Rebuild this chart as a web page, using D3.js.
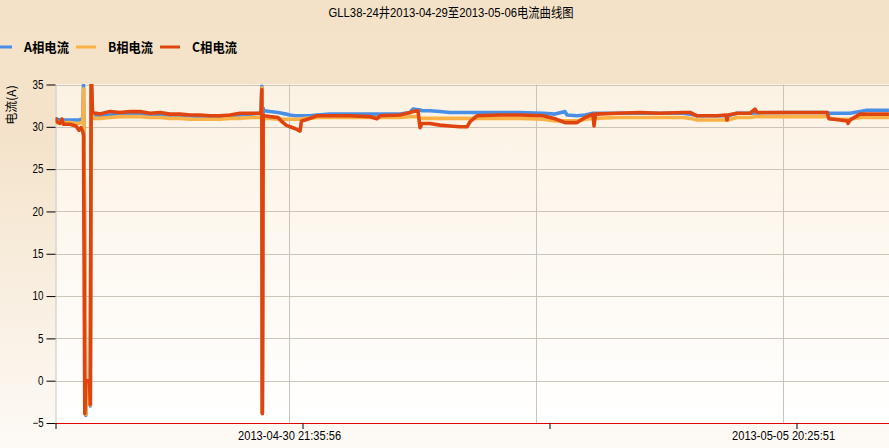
<!DOCTYPE html>
<html><head><meta charset="utf-8">
<script src="https://cdn.jsdelivr.net/npm/d3@7"></script>
<style>html,body{margin:0;padding:0;overflow:hidden;background:#fff}</style>
</head><body><svg id="c" width="889" height="448"></svg>
<script>
const chartTitle = "GLL38-24井2013-04-29至2013-05-06电流曲线图";
const yAxisTitle = "电流(A)";
const seriesNames = ["A相电流", "B相电流", "C相电流"];
const seriesColors = ["#4a8fe6", "#fbb146", "#e0440e"];
const startTime = "2013-04-28 10:10:58";
const endTime = "2013-05-06 18:40:53";
// sample times, in hours after startTime
const hours = [0,0.36,1.08,1.56,1.92,3.49,4.93,5.65,6.13,6.57,6.74,7.05,7.29,7.46,7.94,8.18,8.37,8.59,8.90,
  10.70,13.11,15.52,17.92,20.33,22.73,25.14,27.54,29.95,32.36,34.76,37.17,39.57,41.98,44.38,46.79,
  49.44,49.63,49.75,49.96,50.16,51.60,53.52,54.48,55.45,56.41,57.61,58.82,59.18,60.02,61.22,62.91,
  66.04,70.85,75.66,77.34,78.06,82.87,85.28,86.00,87.20,87.68,88.16,90.09,92.49,94.90,97.30,98.99,
  99.71,101.39,106.93,111.74,117.27,120.16,122.57,123.05,125.45,127.38,129.30,129.54,129.90,135.07,
  140.61,145.42,150.95,152.63,154.32,159.13,161.29,161.53,161.77,163.94,167.07,168.27,168.75,176.69,
  185.59,186.07,188.71,190.40,190.64,191.12,193.52,195.20,200.49];
const valuesA = [30.9,30.9,30.8,30.9,30.8,30.8,30.8,30.8,30.9,31.0,34.9,16.0,-4.1,0,0,-2.5,-3.0,35.5,31.4,
  31.3,31.4,31.5,31.5,31.5,31.4,31.4,31.3,31.3,31.3,31.2,31.2,31.2,31.3,31.4,31.5,
  31.6,34.8,-3.8,32.2,31.9,31.8,31.7,31.6,31.5,31.4,31.3,31.3,31.3,31.3,31.3,31.4,
  31.5,31.5,31.5,31.5,31.5,31.5,31.7,32.1,32.0,32.0,31.9,31.9,31.8,31.7,31.7,31.7,
  31.7,31.7,31.7,31.7,31.6,31.5,31.8,31.4,31.3,31.4,31.6,31.6,31.6,31.6,
  31.6,31.6,31.6,31.5,31.3,31.3,31.3,31.3,31.3,31.6,31.6,31.65,31.65,31.7,
  31.7,31.6,31.6,31.6,31.6,31.6,31.8,31.95,31.95];
const valuesB = [30.6,30.5,30.5,30.6,30.5,30.5,30.4,30.4,30.5,30.6,34.5,16.0,-4.0,0,0,-2.4,-2.9,35.2,31.0,
  31.0,31.1,31.2,31.2,31.2,31.1,31.1,31.0,31.0,30.9,30.9,30.9,30.9,31.0,31.0,31.1,
  31.1,34.6,-3.8,31.4,31.0,31.0,30.9,30.9,30.9,30.9,30.9,30.9,30.9,31.0,31.0,31.1,
  31.1,31.1,31.1,31.1,31.1,31.1,31.2,31.2,31.2,31.0,31.0,31.0,31.0,31.0,31.0,31.0,
  31.0,31.0,31.0,31.0,30.9,30.7,30.7,30.7,30.7,30.9,31.0,31.0,31.0,31.1,
  31.1,31.1,31.1,31.0,30.8,30.8,30.8,30.8,30.8,31.1,31.1,31.2,31.2,31.2,
  31.2,31.0,30.9,30.9,30.9,30.9,31.1,31.1,31.1];
const valuesC = [31.1,30.6,30.4,30.9,30.3,30.3,30.1,29.6,29.9,29.4,29.0,-3.9,0,0,0,0,-2.8,36.5,31.7,
  31.5,31.8,31.7,31.8,31.8,31.6,31.7,31.5,31.5,31.4,31.4,31.3,31.3,31.4,31.6,31.6,
  31.6,34.4,-3.9,31.4,31.3,31.2,31.1,30.6,30.2,30.0,29.8,29.5,30.7,30.8,31.0,31.3,
  31.3,31.3,31.2,30.95,31.3,31.4,31.7,31.8,31.9,29.9,30.4,30.4,30.2,30.1,30.0,30.0,
  30.6,31.3,31.4,31.4,31.3,30.95,30.5,30.5,30.5,31.1,31.5,30.1,31.5,31.6,
  31.7,31.6,31.7,31.7,31.3,31.3,31.4,30.8,31.4,31.6,31.6,32.1,31.7,31.7,
  31.7,30.95,30.8,30.7,30.4,30.8,31.5,31.5,31.5];
const yTicks = [-5, 0, 5, 10, 15, 20, 25, 30, 35];
const xTickTimes = ["2013-04-28 10:10:58", "2013-04-30 21:35:56", "2013-05-03 09:00:53", "2013-05-05 20:25:51"];
const xGridTimes = ["2013-04-30 18:22:36", "2013-05-03 05:47:33", "2013-05-05 17:12:31"];
const xGridLabels = ["2013-04-30 21:35:56", "", "2013-05-05 20:25:51"];

const W = 889, H = 448;
const M = {left: 55.5, right: 889, top: 84.5, bottom: 423};
const parse = d3.timeParse("%Y-%m-%d %H:%M:%S");
const t0 = parse(startTime);
const svg = d3.select("#c");
const font = "'Liberation Sans','Noto Sans CJK SC',sans-serif";
const cjk = "'Noto Sans CJK SC','Liberation Sans',sans-serif";

const defs = svg.append("defs");
const bg = defs.append("linearGradient").attr("id", "bg").attr("x1", 0).attr("y1", 0).attr("x2", 0).attr("y2", 1);
bg.append("stop").attr("offset", "0%").attr("stop-color", "#f4e2c8");
bg.append("stop").attr("offset", "30%").attr("stop-color", "#f4e3ca");
bg.append("stop").attr("offset", "100%").attr("stop-color", "#fdfaf6");
const pg = defs.append("linearGradient").attr("id", "pg").attr("x1", 0).attr("y1", 0).attr("x2", 0).attr("y2", 1);
pg.append("stop").attr("offset", "0%").attr("stop-color", "#fcf2e3");
pg.append("stop").attr("offset", "100%").attr("stop-color", "#ffffff");
defs.append("clipPath").attr("id", "clip").append("rect")
  .attr("x", M.left).attr("y", M.top - 0.5).attr("width", M.right - M.left).attr("height", M.bottom - M.top + 0.5);

svg.append("rect").attr("width", W).attr("height", H).attr("fill", "url(#bg)");
svg.append("rect").attr("x", M.left).attr("y", M.top - 0.5).attr("width", M.right - M.left)
  .attr("height", M.bottom - M.top).attr("fill", "url(#pg)");

const x = d3.scaleTime().domain([t0, parse(endTime)]).range([M.left, M.right]);
const y = d3.scaleLinear().domain([-5, 35]).range([M.bottom, M.top]);

// grid
svg.append("g").selectAll("line").data(yTicks.filter(v => v > -5)).join("line")
  .attr("x1", M.left).attr("x2", M.right)
  .attr("y1", d => Math.round(y(d)) + 0.5).attr("y2", d => Math.round(y(d)) + 0.5)
  .attr("stroke", "#cdc5ba").attr("stroke-width", 1);
svg.append("g").selectAll("line").data(xGridTimes.map(parse)).join("line")
  .attr("x1", d => Math.round(x(d)) + 0.5).attr("x2", d => Math.round(x(d)) + 0.5)
  .attr("y1", M.top).attr("y2", M.bottom)
  .attr("stroke", "#c9c3bb").attr("stroke-width", 1);

// y axis
const ya = svg.append("g").attr("transform", `translate(${M.left},0)`)
  .call(d3.axisLeft(y).tickValues(yTicks).tickSize(9).tickSizeOuter(0).tickPadding(3));
ya.select(".domain").attr("stroke", "#c4c4c4");
ya.selectAll(".tick line").attr("stroke", "#000");
ya.selectAll(".tick text").attr("font-family", font).attr("font-size", 12).attr("fill", "#000")
  .attr("textLength", d => String(d).length * 5.5).attr("lengthAdjust", "spacingAndGlyphs");

// lines
const series = [valuesA, valuesB, valuesC];
const line = d3.line().x((d, i) => x(d3.timeSecond.offset(t0, Math.round(hours[i] * 3600)))).y(d => y(d));
const lg = svg.append("g").attr("clip-path", "url(#clip)");
series.forEach((vals, k) => {
  lg.append("path").datum(vals).attr("d", line).attr("fill", "none")
    .attr("stroke", seriesColors[k]).attr("stroke-width", 3.6).attr("stroke-linejoin", "round");
});

// x axis: tick marks
const xa = svg.append("g").attr("transform", `translate(0,${M.bottom})`)
  .call(d3.axisBottom(x).tickValues(xTickTimes.map(parse)).tickFormat("")
    .tickSize(6).tickSizeOuter(0));
xa.select(".domain").attr("stroke", "#e00000").attr("stroke-width", 1.2);
xa.selectAll(".tick line").attr("stroke", "#000");
// x axis: labels (placed at the grid lines)
const xl = svg.append("g").attr("transform", `translate(0,${M.bottom})`)
  .call(d3.axisBottom(x).tickValues(xGridTimes.map(parse)).tickFormat((d, i) => xGridLabels[i])
    .tickSize(0).tickSizeOuter(0).tickPadding(8));
xl.select(".domain").remove();
xl.selectAll(".tick text").attr("font-family", font).attr("font-size", 12).attr("fill", "#000")
  .attr("textLength", (d, i) => xGridLabels[i] ? 103 : null).attr("lengthAdjust", "spacingAndGlyphs");

// title
svg.append("text").attr("x", 451).attr("y", 17).attr("text-anchor", "middle")
  .attr("font-family", font).attr("font-size", 13).attr("fill", "#000")
  .attr("textLength", 245).attr("lengthAdjust", "spacingAndGlyphs").text(chartTitle);

// y title
svg.append("text").attr("transform", "translate(16,105) rotate(-90)").attr("text-anchor", "middle")
  .attr("font-family", cjk).attr("font-size", 12).attr("fill", "#000").text(yAxisTitle);

// legend
const leg = svg.append("g").selectAll("g").data(seriesNames).join("g")
  .attr("transform", (d, i) => `translate(${-8 + i * 84},47)`);
leg.append("line").attr("x1", 0).attr("x2", 20).attr("stroke", (d, i) => seriesColors[i]).attr("stroke-width", 3);
leg.append("text").attr("x", 32).attr("y", 5).attr("font-family", cjk).attr("font-weight", "bold")
  .attr("font-size", 13).attr("fill", "#000").attr("textLength", 45).attr("lengthAdjust", "spacingAndGlyphs").text(d => d);
</script></body></html>
